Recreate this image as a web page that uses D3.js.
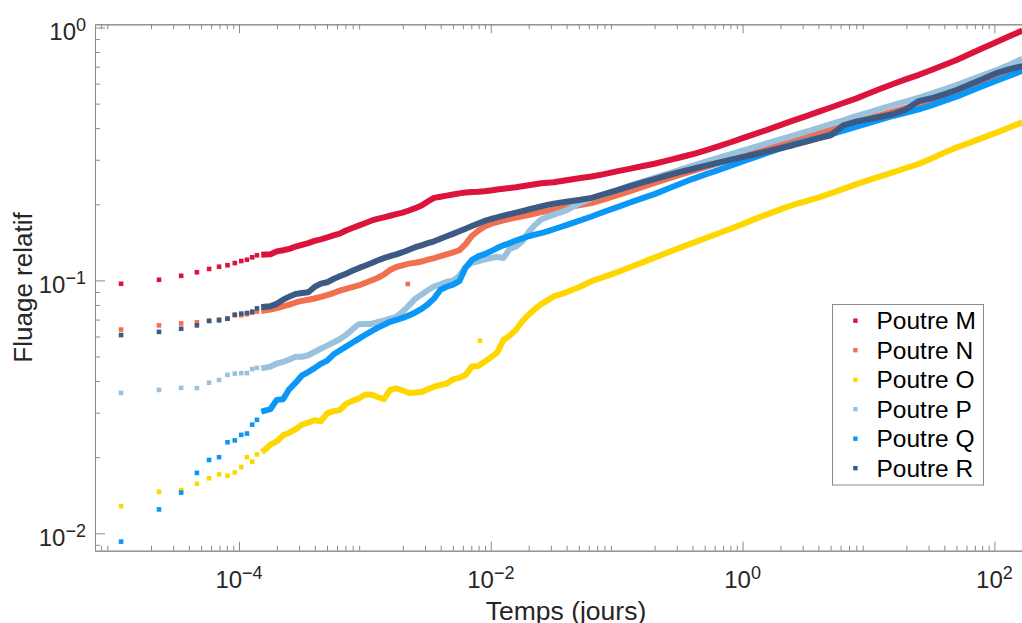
<!DOCTYPE html>
<html><head><meta charset="utf-8">
<script src="https://cdn.jsdelivr.net/npm/d3@7"></script>
<style>
html,body{margin:0;padding:0;background:#fff;}
svg{display:block;font-family:"Liberation Sans",Arial,Helvetica,sans-serif;}
</style>
</head><body>
<svg id="chart" width="1022" height="623"></svg>
<script>
// ---------------- data ----------------
const seriesNames  = ["Poutre M","Poutre N","Poutre O","Poutre P","Poutre Q","Poutre R"];
const seriesColors = ["#DC143C","#F0704F","#FFD700","#9AC2DD","#0A97F8","#3C5A84"];

// first seconds of measurement (days)
const earlyTimes = [1.157e-5,2.315e-5,3.472e-5,4.630e-5,5.787e-5,6.944e-5,8.102e-5,9.259e-5,1.042e-4,1.157e-4,1.273e-4,1.389e-4];
const earlyM = [0.0970,0.1006,0.1043,0.1077,0.1110,0.1133,0.1148,0.1171,0.1193,0.1207,0.1234,0.1257];
const earlyN = [0.0639,0.0664,0.0676,0.0683,0.0693,0.0701,0.0706,0.0728,0.0728,0.0735,0.0745,0.0753];
const earlyO = [0.0128,0.0146,0.0148,0.0157,0.0165,0.0171,0.0169,0.0174,0.0183,0.0200,0.0192,0.0205];
const earlyP = [0.0359,0.0369,0.0376,0.0375,0.0394,0.0404,0.0423,0.0428,0.0430,0.0430,0.0446,0.0451];
const earlyQ = [0.00927,0.01243,0.01448,0.01733,0.0195,0.0200,0.0229,0.0233,0.0245,0.0248,0.0269,0.0281];
const earlyR = [0.0608,0.0626,0.0644,0.0664,0.0691,0.0695,0.0706,0.0732,0.0739,0.0743,0.0752,0.0775];

// dense part of the records (days)
const curveTimes = [
 1.585e-4,1.778e-4,1.995e-4,2.239e-4,2.512e-4,2.818e-4,3.162e-4,3.548e-4,3.981e-4,4.467e-4,
 5.012e-4,5.623e-4,6.310e-4,7.079e-4,7.943e-4,8.913e-4,1.000e-3,1.122e-3,1.259e-3,1.413e-3,
 1.585e-3,1.778e-3,1.995e-3,2.239e-3,2.512e-3,2.818e-3,3.162e-3,3.548e-3,3.981e-3,4.467e-3,
 5.012e-3,5.623e-3,6.310e-3,7.079e-3,7.943e-3,8.913e-3,1.000e-2,1.122e-2,1.259e-2,1.413e-2,
 1.585e-2,1.778e-2,1.995e-2,2.239e-2,2.512e-2,2.818e-2,3.162e-2,
 3.981e-2,5.012e-2,6.310e-2,7.943e-2,0.1,0.1259,0.1585,0.1995,0.2512,0.3162,
 0.3981,0.5012,0.6310,0.7943,1,1.259,1.585,1.995,2.512,3.162,
 3.981,5.012,6.310,7.943,10,12.59,15.85,19.95,25.12,31.62,
 39.81,50.12,63.10,79.43,100,125.9,158.5];
const curveM = [
 0.1266,0.1270,0.1302,0.1316,0.1332,0.1361,0.1383,0.1405,0.1433,0.1453,
 0.1478,0.1507,0.1531,0.1575,0.1612,0.1646,0.1683,0.1722,0.1751,0.1775,
 0.1801,0.1828,0.1854,0.1890,0.1930,0.1976,0.2053,0.2119,0.2143,0.2164,
 0.2186,0.2209,0.2225,0.2238,0.2242,0.2253,0.2269,0.2286,0.2302,0.2319,
 0.2335,0.2356,0.2378,0.2401,0.2423,0.2433,0.2444,
 0.2490,0.2533,0.2575,0.2632,0.2697,0.2762,0.2826,0.2892,0.2974,0.3062,
 0.3153,0.3263,0.3378,0.3509,0.3652,0.3798,0.3946,0.4111,0.4283,0.4454,
 0.4641,0.4826,0.5027,0.5233,0.5483,0.5740,0.5994,0.6246,0.6501,0.6791,
 0.7107,0.7438,0.7832,0.8252,0.8691,0.9146,0.9617];
const curveN = [
 0.0760,0.0767,0.0778,0.0789,0.0802,0.0818,0.0830,0.0839,0.0848,0.0861,
 0.0874,0.0891,0.0911,0.0926,0.0941,0.0955,0.0977,0.0999,0.1022,0.1054,
 0.1099,0.1130,0.1147,0.1165,0.1175,0.1187,0.1207,0.1226,0.1247,0.1268,
 0.1291,0.1316,0.1391,0.1499,0.1572,0.1634,0.1673,0.1700,0.1728,0.1751,
 0.1772,0.1791,0.1813,0.1839,0.1861,0.1884,0.1902,
 0.1941,0.1980,0.2023,0.2093,0.2169,0.2251,0.2337,0.2427,0.2520,0.2615,
 0.2707,0.2800,0.2899,0.2999,0.3101,0.3213,0.3338,0.3466,0.3593,0.3718,
 0.3844,0.3959,0.4115,0.4261,0.4383,0.4513,0.4659,0.4813,0.4974,0.5143,
 0.5340,0.5564,0.5799,0.6039,0.6291,0.6549,0.6816];
const curveO = [
 0.0213,0.0224,0.0231,0.0244,0.0250,0.0258,0.0269,0.0274,0.0280,0.0277,
 0.0298,0.0304,0.0307,0.0325,0.0334,0.0341,0.0353,0.0354,0.0346,0.0339,
 0.0369,0.0374,0.0367,0.0359,0.0360,0.0362,0.0371,0.0380,0.0386,0.0391,
 0.0406,0.0412,0.0423,0.0457,0.0459,0.0477,0.0496,0.0518,0.0581,0.0605,
 0.0638,0.0689,0.0732,0.0770,0.0805,0.0834,0.0864,
 0.0897,0.0940,0.0992,0.1033,0.1075,0.1124,0.1176,0.1230,0.1287,0.1344,
 0.1404,0.1465,0.1529,0.1597,0.1669,0.1751,0.1829,0.1909,0.1987,0.2055,
 0.2125,0.2209,0.2302,0.2398,0.2492,0.2582,0.2681,0.2783,0.2889,0.3034,
 0.3196,0.3353,0.3499,0.3652,0.3815,0.3987,0.4177];
const curveP = [
 0.0451,0.0456,0.0469,0.0476,0.0487,0.0499,0.0499,0.0506,0.0521,0.0537,
 0.0552,0.0568,0.0585,0.0609,0.0640,0.0671,0.0673,0.0673,0.0683,0.0693,
 0.0706,0.0718,0.0753,0.0797,0.0847,0.0880,0.0914,0.0946,0.0966,0.0988,
 0.0998,0.1043,0.1130,0.1174,0.1190,0.1208,0.1224,0.1240,0.1226,0.1333,
 0.1361,0.1425,0.1553,0.1657,0.1741,0.1783,0.1821,
 0.1891,0.2011,0.2108,0.2186,0.2273,0.2364,0.2454,0.2546,0.2639,0.2739,
 0.2839,0.2939,0.3043,0.3150,0.3257,0.3372,0.3487,0.3610,0.3737,0.3869,
 0.4005,0.4146,0.4296,0.4459,0.4610,0.4775,0.4943,0.5108,0.5279,0.5474,
 0.5699,0.5923,0.6183,0.6459,0.6735,0.7049,0.7433];
const curveQ = [
 0.0305,0.0310,0.0337,0.0339,0.0372,0.0394,0.0421,0.0434,0.0450,0.0468,
 0.0482,0.0509,0.0528,0.0547,0.0567,0.0587,0.0608,0.0629,0.0649,0.0667,
 0.0686,0.0698,0.0711,0.0727,0.0747,0.0772,0.0805,0.0849,0.0918,0.0944,
 0.0962,0.0993,0.1124,0.1205,0.1244,0.1270,0.1303,0.1342,0.1376,0.1404,
 0.1437,0.1467,0.1495,0.1516,0.1538,0.1562,0.1593,
 0.1655,0.1719,0.1789,0.1868,0.1944,0.2027,0.2110,0.2194,0.2297,0.2404,
 0.2516,0.2618,0.2724,0.2836,0.2953,0.3071,0.3196,0.3326,0.3453,0.3555,
 0.3656,0.3778,0.3908,0.4045,0.4185,0.4331,0.4479,0.4610,0.4748,0.4924,
 0.5126,0.5325,0.5579,0.5842,0.6114,0.6387,0.6680];
const curveR = [
 0.0786,0.0791,0.0808,0.0839,0.0863,0.0884,0.0891,0.0898,0.0942,0.0971,
 0.0983,0.1013,0.1038,0.1063,0.1091,0.1118,0.1143,0.1169,0.1198,0.1225,
 0.1246,0.1267,0.1293,0.1322,0.1353,0.1377,0.1403,0.1428,0.1461,0.1494,
 0.1528,0.1564,0.1601,0.1640,0.1679,0.1718,0.1749,0.1775,0.1802,0.1828,
 0.1853,0.1880,0.1907,0.1934,0.1962,0.1989,0.2009,
 0.2046,0.2080,0.2120,0.2194,0.2271,0.2352,0.2434,0.2517,0.2599,0.2678,
 0.2757,0.2836,0.2915,0.2997,0.3071,0.3153,0.3240,0.3330,0.3424,0.3531,
 0.3644,0.3748,0.4100,0.4242,0.4344,0.4439,0.4554,0.4748,0.5118,0.5250,
 0.5439,0.5660,0.5933,0.6234,0.6554,0.6803,0.6998];

// isolated readings
const outlierTimesN = [2.19e-3], outlierValuesN = [0.0968];
const outlierTimesO = [8.2e-3],  outlierValuesO = [0.0577];

// axes
const xMajorTicks = [1e-4, 1e-2, 1, 1e2];
const xTickExponents = ["-4", "-2", "0", "2"];
const yMajorTicks = [1e-2, 1e-1, 1];
const yTickExponents = ["-2", "-1", "0"];
const xLabel = "Temps (jours)";
const yLabel = "Fluage relatif";

// ---------------- drawing ----------------
const svg = d3.select("#chart");
const L = 95, R = 1022, T = 24.3, B = 550.7;
const x = d3.scaleLog().domain([Math.pow(10,-5.1438), Math.pow(10,2.2192)]).range([L, R]);
const y = d3.scaleLog().domain([Math.pow(10,-2.0688), Math.pow(10,0.01265)]).range([B, T]);

const axisColor = "#8a8a8a";
function minorTicks(scale){
  const [a,b] = scale.domain(); const out=[];
  for(let e=Math.floor(Math.log10(a)); e<=Math.ceil(Math.log10(b)); e++){
    for(let m=2;m<=9;m++){ const v=m*Math.pow(10,e); if(v>=a && v<=b) out.push(v); }
  }
  return out;
}
function styleAxis(g){
  g.select(".domain").attr("stroke", axisColor).attr("stroke-width",1);
  g.selectAll(".tick line").attr("stroke", axisColor).attr("stroke-width",1);
  g.selectAll(".tick text").remove();
}
svg.append("g").attr("transform",`translate(0,${B})`)
  .call(d3.axisBottom(x).tickValues(xMajorTicks).tickSizeInner(-9).tickSizeOuter(0).tickFormat("")).call(styleAxis);
svg.append("g").attr("transform",`translate(0,${B})`)
  .call(d3.axisBottom(x).tickValues(minorTicks(x)).tickSizeInner(-5).tickSizeOuter(0).tickFormat("")).call(styleAxis);
svg.append("g").attr("transform",`translate(0,${T})`)
  .call(d3.axisTop(x).tickValues(xMajorTicks).tickSizeInner(-9).tickSizeOuter(0).tickFormat("")).call(styleAxis);
svg.append("g").attr("transform",`translate(0,${T})`)
  .call(d3.axisTop(x).tickValues(minorTicks(x)).tickSizeInner(-5).tickSizeOuter(0).tickFormat("")).call(styleAxis);
svg.append("g").attr("transform",`translate(${L},0)`)
  .call(d3.axisLeft(y).tickValues(yMajorTicks).tickSizeInner(-10).tickSizeOuter(0).tickFormat("")).call(styleAxis);
svg.append("g").attr("transform",`translate(${L},0)`)
  .call(d3.axisLeft(y).tickValues(minorTicks(y)).tickSizeInner(-5).tickSizeOuter(0).tickFormat("")).call(styleAxis);

// tick labels with superscripts
const labelColor = "#262626";
xMajorTicks.forEach((v,i)=>{
  const t = svg.append("text").attr("x", x(v)).attr("y", B+37.6)
    .attr("text-anchor","middle").attr("fill",labelColor).attr("font-size",24);
  t.append("tspan").text("10");
  t.append("tspan").attr("dy",-9).attr("font-size",18).text(xTickExponents[i].replace("-","\u2212"));
});
yMajorTicks.forEach((v,i)=>{
  const t = svg.append("text").attr("x", L-9).attr("y", y(v)+13)
    .attr("text-anchor","end").attr("fill",labelColor).attr("font-size",24);
  t.append("tspan").text("10");
  t.append("tspan").attr("dy",-9).attr("font-size",18).text(yTickExponents[i].replace("-","\u2212"));
});
svg.append("text").attr("x",566).attr("y",620).attr("text-anchor","middle")
  .attr("fill",labelColor).attr("font-size",26.5).text(xLabel);
svg.append("text").attr("transform",`translate(32,${(T+B)/2}) rotate(-90)`).attr("text-anchor","middle")
  .attr("fill",labelColor).attr("font-size",26).text(yLabel);

// series (drawn in order, R on top)
const early = [earlyM, earlyN, earlyO, earlyP, earlyQ, earlyR];
const curves = [curveM, curveN, curveO, curveP, curveQ, curveR];
const outliers = {1:[outlierTimesN,outlierValuesN], 2:[outlierTimesO,outlierValuesO]};
const plot = svg.append("g");
const line = d3.line().x(d=>x(d[0])).y(d=>y(d[1]));
const sq = 4.6;
seriesNames.forEach((name,i)=>{
  const g = plot.append("g");
  const c = seriesColors[i];
  const cpts = curveTimes.map((t,k)=>[t, curves[i][k]]);
  g.append("path").attr("d", line(cpts)).attr("fill","none").attr("stroke",c)
    .attr("stroke-width",6).attr("stroke-linejoin","round").attr("stroke-linecap","square");
  const pts = earlyTimes.map((t,k)=>[t, early[i][k]]);
  if(outliers[i]) outliers[i][0].forEach((t,k)=>pts.push([t, outliers[i][1][k]]));
  g.selectAll("rect").data(pts).enter().append("rect")
    .attr("x", d=>x(d[0])-sq/2).attr("y", d=>y(d[1])-sq/2)
    .attr("width",sq).attr("height",sq).attr("fill",c);
});

// legend
const lg = svg.append("g");
lg.append("rect").attr("x",832.5).attr("y",304.5).attr("width",151).attr("height",180.5)
  .attr("fill","#fff").attr("stroke","#8a8a8a").attr("stroke-width",1);
seriesNames.forEach((name,i)=>{
  const cy = 320.7 + i*29.5;
  lg.append("rect").attr("x",853.2).attr("y",cy-2.2).attr("width",4.4).attr("height",4.4).attr("fill",seriesColors[i]);
  lg.append("text").attr("x",876.5).attr("y",cy+8.7).attr("font-size",24.5).attr("fill","#000").text(name);
});
</script>
</body></html>
